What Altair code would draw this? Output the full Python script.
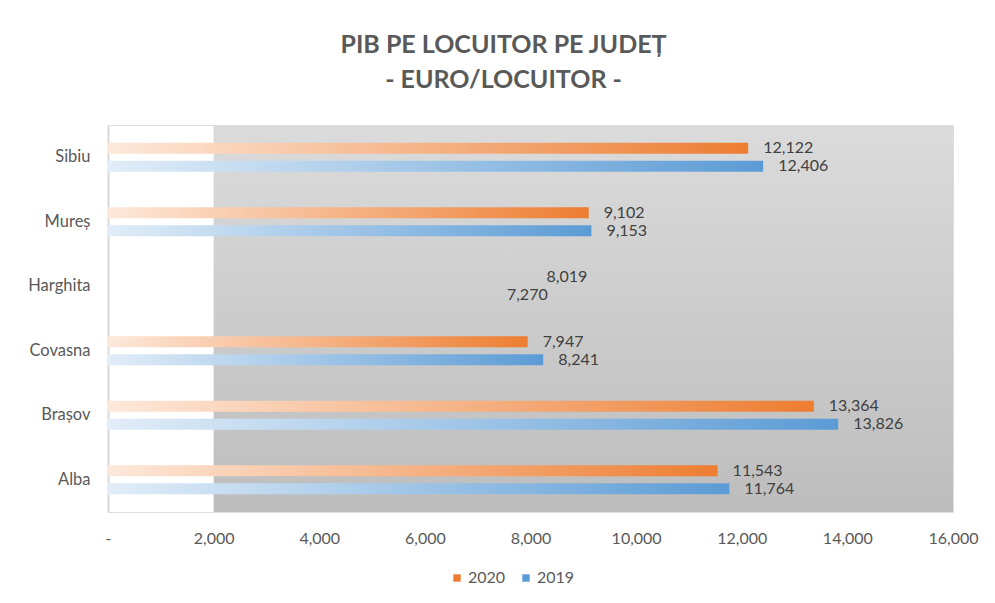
import altair as alt
import pandas as pd

# ---- data ----
counties = ["Sibiu", "Mureș", "Harghita", "Covasna", "Brașov", "Alba"]
v2020 = [12122, 9102, 8019, 7947, 13364, 11543]
v2019 = [12406, 9153, 7270, 8241, 13826, 11764]
series = ["2020", "2019"]
series_colors = ["#ED7D31", "#5B9BD5"]
hidden_bars = ["Harghita"]          # bars with no fill in the original, labels only
x_ticks = [0, 2000, 4000, 6000, 8000, 10000, 12000, 14000, 16000]
shade_from, shade_to = 2000, 16000  # grey shaded band of the plot area

rows = []
for c, a, b in zip(counties, v2020, v2019):
    rows.append({"judet": c, "an": "2020", "val": a})
    rows.append({"judet": c, "an": "2019", "val": b})
df = pd.DataFrame(rows)
bg = pd.DataFrame({"x0": [shade_from], "x1": [shade_to]})

FONT = "Lato"
TXT = "#595959"

x_enc = alt.X(
    "val:Q",
    scale=alt.Scale(domain=[x_ticks[0], x_ticks[-1]], nice=False),
    axis=alt.Axis(
        values=x_ticks,
        labelExpr="datum.value == 0 ? '-' : format(datum.value, ',')",
        title=None, domain=False, ticks=False, grid=False,
        labelPadding=18, labelFontSize=16, labelColor=TXT, labelFont=FONT,
        labelFlush=False,
    ),
)
y_enc = alt.Y(
    "judet:N", sort=counties,
    scale=alt.Scale(paddingInner=0.55, paddingOuter=0.275),
    axis=alt.Axis(
        title=None, ticks=False, domain=True, domainColor="#d9d9d9",
        domainWidth=2, labelPadding=18, labelFontSize=16.5, labelColor=TXT,
        labelFont=FONT, grid=False,
    ),
)
yoff_enc = alt.YOffset("an:N", sort=series,
                       scale=alt.Scale(paddingInner=0.39, paddingOuter=0))

grey = alt.Gradient(
    gradient="linear",
    stops=[alt.GradientStop(color="#dbdbdb", offset=0),
           alt.GradientStop(color="#bdbdbd", offset=1)],
    x1=0, x2=0, y1=0, y2=1,
)
background = alt.Chart(bg).mark_rect(fill=grey).encode(
    x=alt.X("x0:Q", scale=alt.Scale(domain=[x_ticks[0], x_ticks[-1]], nice=False)),
    x2="x1:Q",
)

light = {"2020": "#fde8da", "2019": "#e1edf8"}
bar_layers = []
for s, col in zip(series, series_colors):
    grad = alt.Gradient(
        gradient="linear",
        stops=[alt.GradientStop(color=light[s], offset=0),
               alt.GradientStop(color=col, offset=1)],
        x1=0, x2=1, y1=0, y2=0,
    )
    bar_layers.append(
        alt.Chart(df).transform_filter(alt.datum.an == s)
        .mark_bar(fill=grad)
        .encode(
            x=x_enc, y=y_enc, yOffset=yoff_enc,
            opacity=alt.condition(
                alt.FieldOneOfPredicate(field="judet", oneOf=hidden_bars),
                alt.value(0), alt.value(1)),
        )
    )

labels = alt.Chart(df).mark_text(
    align="left", baseline="middle", dx=15, fontSize=16, color="#404040", font=FONT
).encode(x=x_enc, y=y_enc, yOffset=yoff_enc, text=alt.Text("val:Q", format=","))

legend_layer = alt.Chart(df).mark_square(opacity=0).encode(
    x=x_enc, y=y_enc, yOffset=yoff_enc,
    color=alt.Color(
        "an:N",
        scale=alt.Scale(domain=series, range=series_colors),
        legend=alt.Legend(
            title=None, orient="none", legendX=341, legendY=445,
            direction="horizontal", symbolType="square", symbolSize=55,
            symbolOpacity=1, symbolStrokeWidth=0, labelFontSize=16,
            labelColor=TXT, labelFont=FONT, columnPadding=12, labelOffset=3,
        ),
    ),
)

chart = alt.layer(background, *bar_layers, labels, legend_layer).properties(
    width=845, height=387,
    autosize=alt.AutoSizeParams(type="none"),
    padding={"left": 100, "top": 117, "right": 30, "bottom": 80},
    title=alt.TitleParams(
        text=["PIB PE LOCUITOR PE JUDEȚ", "- EURO/LOCUITOR -"],
        fontSize=25, font=FONT, fontWeight="bold", color=TXT,
        anchor="middle", dx=-27, offset=32, lineHeight=35,
    ),
).configure_view(stroke=None).configure(background="white")

chart.save("out.html", embed_options={"renderer": "svg", "actions": False})
